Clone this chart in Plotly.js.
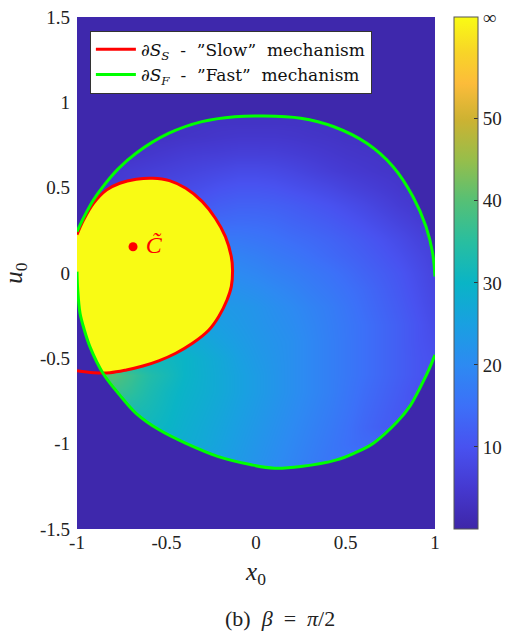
<!DOCTYPE html>
<html>
<head>
<meta charset="utf-8">
<script src="https://cdn.plot.ly/plotly-3.0.1.min.js"></script>
<style>html,body{margin:0;padding:0;background:#fff;}#chart{width:519px;height:634px;}</style>
</head>
<body>
<div id="chart"></div>
<script>
// grid coordinates of the field
const xVals = [-1,-0.9,-0.8,-0.7,-0.6,-0.5,-0.4,-0.3,-0.2,-0.1,0,0.1,0.2,0.3,0.4,0.5,0.6,0.7,0.8,0.9,1];
const uVals = [1.5,1.4,1.3,1.2,1.1,1.0,0.9,0.8,0.7,0.6,0.5,0.4,0.3,0.2,0.1,0,-0.1,-0.2,-0.3,-0.4,-0.5,-0.6,-0.7,-0.8,-0.9,-1.0,-1.1,-1.2,-1.3,-1.4,-1.5];
// field values (one row per u value)
const zRows = [
[3,3,3,3,3,3,3,3,3,3,3,3,3,3,3,3,3,3,3,3,3],
[3,3,3,3,3,3,3,3,3,3,3,3,3,3,3,3,3,3,3,3,3],
[3,3,3,3,3,3,3,3,3,3,3,3,3,3,3,3,3,3,3,3,3],
[3,3,3,3,3,3,3,3,3,3,3,3,3,3,3,3,3,3,3,3,3],
[3,3,3,3,3,3,3,3,3,3,3,3,3,3,3,3,3,3,3,3,3],
[3.5,3.5,3.5,3.5,3.5,3.5,3.5,3.5,3.5,3.5,3.5,3.5,3.5,3.5,3.5,3.5,3.5,3.5,3.5,3.5,3.5],
[3.5,3.5,3.5,3.5,3.5,3.5,3.5,3.5,3.5,3.5,3.5,3.5,3.5,3.5,3.5,3.5,3.5,3.5,3.5,3.5,3.5],
[3.5,3.5,3.5,3.5,3.5,3.5,3.8,4,4.3,4.5,4.5,4.5,4.3,4,3.8,3.5,3.5,3.5,3.5,3.5,3.5],
[4,4,4,4,4.5,5,5.5,5.8,6,6.3,6.3,6.2,5.8,5.3,4.8,4.3,4,3.8,3.8,3.8,3.8],
[5,5,5,5.5,6,6.5,7,7.5,8,8.5,8.5,8.2,7.6,6.8,6,5.3,4.8,4.3,4,4,4],
[5,5,5.5,6,7,8,8.5,9.2,10,10.5,10.5,10.2,9.5,8.8,8,7,6.2,5.4,4.6,4.2,4],
[10,10,10,10,10,10,10.5,11,12,12.5,12.5,12.2,11.6,10.8,10,9,8,6.8,5.6,4.8,4.5],
[13,13,13,13,13,13,13,13.5,14,14.3,14.2,13.8,13,12.3,11.5,10.5,9.5,8.3,7,5.8,5],
[16,16,16,16,16,16,16,16,16.5,16.5,16,15.3,14.5,13.8,13,12,11,9.8,8.5,7,6],
[18.5,18.5,18.5,18.5,18.5,18.5,18.5,18.5,18.5,18.5,17.8,16.8,16,15,14,13,12,10.8,9.5,8,6.5],
[20,20,20,20,20,20,20,20,20,20,19.3,18.3,17.5,16.5,15.5,14.3,13,11.8,10.5,8.8,7],
[21.5,21.5,21.5,21.5,21.5,21.5,21.5,21.5,21.5,21.5,20.8,19.8,18.8,17.6,16.5,15.2,14,12.5,11,9.3,7.5],
[23.5,23.5,23.5,23.5,23.5,23.5,23.5,23.5,23.5,23,22.2,21,20,18.7,17.5,16,14.5,13,11.5,9.8,8],
[25,25,25,25,25,25,25,25,24.5,23.5,22.5,21.5,20.5,19.2,17.8,16.4,15,13.5,12,10.3,8.5],
[27.5,27.5,27.5,27.5,27.5,27.5,27.5,27,25.5,24.2,23,22,21,19.5,18,16.5,15,13.5,12,10.3,9],
[31,31,31,31,31,31,30,28.3,26.8,25,23.5,22.3,21,19.5,18,16.5,15,13.5,12,10.5,9.5],
[40,40,40,37,34,32,30,28.5,27,25.5,24,22.5,21,19.5,18,16.5,15,13.5,12,10.5,9.5],
[37,37,37,35.5,33,31,29.5,28.3,27,25.5,24,22.5,21,19.5,18,16.2,14.5,13,11.5,9.8,9],
[33,33,33,33,32,30.5,29,27.8,26.5,25,23.5,22,20.5,19,17.5,15.8,14,12.5,11,10,10],
[31,31,31,31,31,30,28.5,27.3,26,24.5,23,21.5,20,18.5,17,15.3,13.5,12,11,11,11],
[28,28,28,28,28,28,28,27,25.5,24,22.5,21,19.5,18,16.5,15,14,14,14,14,14],
[25,25,25,25,25,25,25,25,25,23.5,22,20.5,19,17.5,16,16,16,16,16,16,16],
[25,25,25,25,25,25,25,25,25,23.5,22,20.5,19,17.5,16,16,16,16,16,16,16],
[25,25,25,25,25,25,25,25,25,23.5,22,20.5,19,17.5,16,16,16,16,16,16,16],
[25,25,25,25,25,25,25,25,25,23.5,22,20.5,19,17.5,16,16,16,16,16,16,16],
[25,25,25,25,25,25,25,25,25,23.5,22,20.5,19,17.5,16,16,16,16,16,16,16]
];
// dS_S boundary ("slow" mechanism)
const redX = [-1,-0.963,-0.908,-0.834,-0.761,-0.669,-0.576,-0.484,-0.392,-0.300,-0.227,-0.171,-0.138,-0.131,-0.138,-0.162,-0.208,-0.263,-0.355,-0.448,-0.540,-0.632,-0.724,-0.816,-0.908,-1];
const redU = [0.225,0.311,0.408,0.487,0.526,0.549,0.555,0.541,0.496,0.418,0.321,0.213,0.096,0.018,-0.080,-0.158,-0.255,-0.334,-0.412,-0.470,-0.513,-0.545,-0.568,-0.584,-0.584,-0.572];
// dS_F boundary ("fast" mechanism), upper and lower arcs
const greenUpX = [-1,-0.96,-0.91,-0.855,-0.77,-0.670,-0.486,-0.302,-0.118,0.029,0.250,0.435,0.619,0.766,0.877,0.950,0.987,1.0];
const greenUpU = [0.242,0.33,0.425,0.506,0.61,0.702,0.819,0.887,0.916,0.920,0.907,0.857,0.760,0.623,0.447,0.271,0.116,-0.021];
const greenLoX = [-1,-0.996,-0.983,-0.96,-0.928,-0.855,-0.762,-0.670,-0.541,-0.394,-0.210,-0.026,0.103,0.250,0.450,0.550,0.656,0.790,0.860,0.915,0.960,1.0];
const greenLoU = [0.008,-0.1,-0.236,-0.33,-0.431,-0.587,-0.714,-0.822,-0.919,-0.997,-1.076,-1.124,-1.144,-1.134,-1.095,-1.055,-0.997,-0.870,-0.780,-0.675,-0.580,-0.480];
// special point C~
const cX = [-0.687];
const cU = [0.154];
// colour bar ticks
const cbTickVals = [10,20,30,40,50,62.3];
const cbTickText = ['10','20','30','40','50','∞'];
const xTickVals = [-1,-0.5,0,0.5,1];
const xTickText = ['-1','-0.5','0','0.5','1'];
const uTickVals = [-1.5,-1,-0.5,0,0.5,1,1.5];
const uTickText = ['-1.5','-1','-0.5','0','0.5','1','1.5'];

const parula = [
 [0,'rgb(62,38,168)'],[0.08,'rgb(69,57,208)'],[0.16,'rgb(72,82,240)'],[0.24,'rgb(60,112,248)'],
 [0.32,'rgb(45,138,242)'],[0.40,'rgb(25,160,225)'],[0.48,'rgb(10,180,198)'],[0.56,'rgb(40,190,160)'],
 [0.64,'rgb(85,192,118)'],[0.72,'rgb(150,190,75)'],[0.80,'rgb(205,178,50)'],[0.87,'rgb(252,188,58)'],
 [0.93,'rgb(248,212,40)'],[1,'rgb(249,251,20)']
];
const bgColor = 'rgb(62,40,172)';
const yellow = 'rgb(249,251,20)';
const serif = 'Liberation Serif, Times New Roman, serif';
const legendFont = 'DejaVu Serif, serif';
const nb = '\u00a0';

const X0 = -1, X1 = 1, U0 = -1.5, U1 = 1.5;

const heat = {
  type:'heatmap', x:xVals, y:uVals, z:zRows, zsmooth:'best',
  colorscale:parula, zmin:0, zmax:62.4, showlegend:false, hoverinfo:'skip',
  colorbar:{x:1.0525, xanchor:'left', y:0.5, yanchor:'middle', len:1, lenmode:'fraction',
    thickness:24, thicknessmode:'pixels', outlinewidth:1, outlinecolor:'#555',
    tickmode:'array', tickvals:cbTickVals, ticktext:cbTickText, ticks:'inside', ticklen:4,
    tickcolor:'#333', tickfont:{family:serif, size:19, color:'#222'}, xpad:0, ypad:0}
};
const yellowFill = {
  type:'scatter', mode:'lines', x:redX.concat([X0]), y:redU.concat([redU[0]]),
  fill:'toself', fillcolor:yellow, line:{width:0, color:yellow}, showlegend:false, hoverinfo:'skip'
};
const topMask = {
  type:'scatter', mode:'lines', x:[X0].concat(greenUpX, [X1, X0]), y:[U1].concat(greenUpU, [U1, U1]),
  fill:'toself', fillcolor:bgColor, line:{width:0, color:bgColor}, showlegend:false, hoverinfo:'skip'
};
const botMask = {
  type:'scatter', mode:'lines', x:[X0].concat(greenLoX, [X1, X0]), y:[U0].concat(greenLoU, [U0, U0]),
  fill:'toself', fillcolor:bgColor, line:{width:0, color:bgColor}, showlegend:false, hoverinfo:'skip'
};
const redLine = {
  type:'scatter', mode:'lines', x:redX, y:redU, line:{color:'rgb(255,0,0)', width:3, shape:'spline', smoothing:1},
  name:'<i>∂S</i><sub><i>S</i></sub>'+nb+' -'+nb+' ”Slow”'+nb+' mechanism', hoverinfo:'skip'
};
const greenLine = {
  type:'scatter', mode:'lines', x:greenUpX.concat([null], greenLoX), y:greenUpU.concat([null], greenLoU),
  connectgaps:false, line:{color:'rgb(0,255,0)', width:3, shape:'spline', smoothing:1},
  name:'<i>∂S</i><sub><i>F</i></sub>'+nb+' -'+nb+' ”Fast”'+nb+' mechanism', hoverinfo:'skip'
};
const cPoint = {
  type:'scatter', mode:'markers+text', x:cX, y:cU, marker:{color:'rgb(255,0,0)', size:9},
  text:[nb+'<i>C̃</i>'], textposition:'middle right', textfont:{family:serif, size:24, color:'rgb(255,0,0)'},
  showlegend:false, hoverinfo:'skip'
};

const layout = {
  width:519, height:634, margin:{l:77, r:80, t:17, b:105}, paper_bgcolor:'#fff', plot_bgcolor:bgColor,
  font:{family:serif, size:18, color:'#222'},
  xaxis:{range:[X0,X1], tickmode:'array', tickvals:xTickVals, ticktext:xTickText, ticks:'', showgrid:false,
    zeroline:false, showline:false, tickfont:{family:serif, size:19, color:'#222'}, automargin:false,
    title:{text:'<i>x</i><sub>0</sub>', font:{family:serif, size:25, color:'#222'}, standoff:10}},
  yaxis:{range:[U0,U1], tickmode:'array', tickvals:uTickVals, ticktext:uTickText, ticks:'', showgrid:false,
    zeroline:false, showline:false, tickfont:{family:serif, size:19, color:'#222'}, automargin:false,
    ticklabelstandoff:6,
    title:{text:'<i>u</i><sub>0</sub>', font:{family:serif, size:25, color:'#222'}, standoff:12}},
  legend:{x:0.036, y:0.973, xanchor:'left', yanchor:'top', bgcolor:'#fff', bordercolor:'#333', borderwidth:1,
    font:{family:legendFont, size:17, color:'#111'}, tracegroupgap:0, itemwidth:40},
  annotations:[{xref:'paper', yref:'paper', x:0.566, y:-0.174, xanchor:'center', yanchor:'middle', showarrow:false,
    text:'(b)'+nb+' <i>β</i>'+nb+' ='+nb+' <i>π</i>/2', font:{family:serif, size:22, color:'#222'}}]
};

Plotly.newPlot('chart', [heat, yellowFill, topMask, botMask, redLine, greenLine, cPoint], layout, {displayModeBar:false, staticPlot:true});
</script>
</body>
</html>
